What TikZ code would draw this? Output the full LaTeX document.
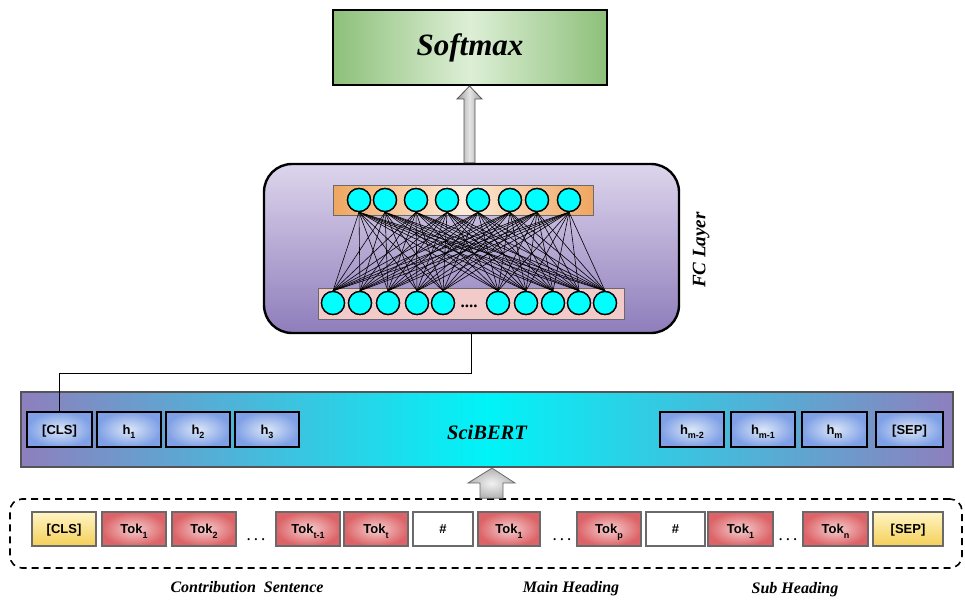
\documentclass[tikz,border=0pt]{standalone}
\usepackage{fontspec}
\setmainfont{Liberation Serif}
\setsansfont{Liberation Sans}
\usetikzlibrary{calc}
\definecolor{cyanN}{HTML}{00FFFF}
\definecolor{bertEdge}{HTML}{8E7FBE}
\definecolor{bertMid}{HTML}{00F4F8}
\definecolor{fcTop}{HTML}{DDD5EC}
\definecolor{fcBot}{HTML}{8E7DBB}
\definecolor{smEdge}{HTML}{8DC07A}
\definecolor{smMid}{HTML}{DDEFD6}
\definecolor{orEdge}{HTML}{EFA660}
\definecolor{orMid}{HTML}{FCEBDD}
\definecolor{pinkBar}{HTML}{F3CACA}
\definecolor{hIn}{HTML}{DCE7F8}
\definecolor{hOut}{HTML}{7FA0E6}
\definecolor{tIn}{HTML}{F6CFCF}
\definecolor{tOut}{HTML}{DC6468}
\definecolor{yTop}{HTML}{FFF4C4}
\definecolor{yBot}{HTML}{F4CF58}
\definecolor{boxGray}{HTML}{6A6A6A}
\newcommand{\tsub}[1]{\raisebox{-4.5pt}{\fontsize{9}{9}\selectfont #1}}
\newcommand{\tdots}{.\hspace{4pt}.\hspace{4pt}.}
\tikzset{
  neuron/.style={circle,draw=black,line width=1.3pt,fill=cyanN,minimum size=23pt,inner sep=0pt},
  labtext/.style={inner sep=0pt,text height=9.5pt,text depth=0pt,
    font=\sffamily\bfseries\fontsize{13}{14}\selectfont},
  hbox/.style={labtext,draw=black,line width=1.6pt,inner color=hIn,outer color=hOut,
    minimum height=35pt},
  basetok/.style={labtext,draw=boxGray,line width=1.8pt,minimum height=34pt},
  tokbox/.style={basetok,inner color=tIn,outer color=tOut},
  clsbox/.style={basetok,top color=yTop,bottom color=yBot},
  hashbox/.style={basetok,fill=white},
  dotlab/.style={inner sep=0pt,font=\bfseries\fontsize{13}{14}\selectfont},
  seriflab/.style={font=\rmfamily\bfseries\itshape\fontsize{16}{17}\selectfont},
  conn/.style={line width=0.6pt,black},
}
\begin{document}
\begin{tikzpicture}[x=1pt,y=-1pt]
\useasboundingbox (0,0) rectangle (965,599);

% Softmax
\node[draw=black,line width=2pt,minimum width=274pt,minimum height=75pt,
  left color=smEdge,right color=smEdge,middle color=smMid,
  font=\rmfamily\bfseries\itshape\fontsize{31}{32}\selectfont] (softmax) at (470,47.5) {\raisebox{-4pt}{Softmax}};

% FC box
\node[draw=black,line width=2.4pt,rounded corners=28pt,minimum width=415pt,minimum height=169pt,
  top color=fcTop,bottom color=fcBot] (fc) at (471.5,248.5) {};

% arrow FC -> Softmax
\path[draw=boxGray!80!black,line width=0.8pt,left color=gray!80,right color=gray!80,middle color=gray!20]
  (fc.north -| 464,0) -- (464,99) -- (457,99) -- (softmax.south -| 469.5,0) -- (482,99) -- (475,99) -- (fc.north -| 475,0) -- cycle;

% bars
\node[draw=boxGray,line width=1pt,minimum width=260pt,minimum height=30pt,
  left color=orEdge,right color=orEdge,middle color=orMid] (topbar) at (463,200) {};
\node[draw=boxGray,line width=1pt,minimum width=306pt,minimum height=31pt,
  fill=pinkBar] (botbar) at (471,303.5) {};

% neurons
\foreach \x [count=\i] in {359,385,416,447,478,510,537,569}
  \node[neuron] (t\i) at (\x,200) {};
\foreach \x [count=\i] in {333,360,388,417,443,498,526,553,579,605}
  \node[neuron] (b\i) at (\x,303) {};
\node[inner sep=0pt,font=\bfseries\fontsize{17}{17}\selectfont] (bdots) at (469,306) {....};

\foreach \i in {1,...,8}
  \foreach \j in {1,...,10}
    \draw[conn] (t\i.south) -- (b\j.north);
% redraw neurons on top of the links
\foreach \x in {359,385,416,447,478,510,537,569}
  \node[neuron] at (\x,200) {};
\foreach \x in {333,360,388,417,443,498,526,553,579,605}
  \node[neuron] at (\x,303) {};

\node[rotate=90,font=\rmfamily\bfseries\itshape\fontsize{19}{20}\selectfont] (fclab) at (701,250) {FC Layer};

% SciBERT bar
\node[draw=boxGray!80!black,line width=2.2pt,minimum width=932pt,minimum height=75pt,
  left color=bertEdge,right color=bertEdge,middle color=bertMid] (bert) at (487,429.5) {};
\node[font=\rmfamily\bfseries\itshape\fontsize{20.5}{22}\selectfont] (bertlab) at (487,432) {SciBERT};

% hidden boxes
\node[hbox,minimum width=65pt] (hcls) at (59.5,429.5) {[CLS]};
\node[hbox,minimum width=64pt] (h1) at (129,429.5) {h\tsub{1}};
\node[hbox,minimum width=64pt] (h2) at (198,429.5) {h\tsub{2}};
\node[hbox,minimum width=64pt] (h3) at (267,429.5) {h\tsub{3}};
\node[hbox,minimum width=64pt] (hm2) at (692,429.5) {h\tsub{m-2}};
\node[hbox,minimum width=64pt] (hm1) at (763,429.5) {h\tsub{m-1}};
\node[hbox,minimum width=65pt] (hm) at (834.5,429.5) {h\tsub{m}};
\node[hbox,minimum width=67pt] (hsep) at (909.5,429.5) {[SEP]};

% connector FC -> CLS
\coordinate (bend) at (472,373);
\draw[line width=0.9pt] (fc.south) -- (fc.south |- bend) -| (hcls.north);

% input frame
\node[draw=black,line width=1.6pt,dashed,dash pattern=on 7pt off 5pt,rounded corners=12pt,
  minimum width=952pt,minimum height=69pt] (frame) at (486,533.5) {};

% input arrow
\path[draw=boxGray,line width=0.8pt,inner color=gray!10,outer color=gray!60]
  (frame.north -| 480,0) -- (480,483) -- (468,483) -- (bert.south -| 492,0) -- (515,483) -- (503,483) -- (frame.north -| 503,0) -- cycle;

% tokens
\node[clsbox,minimum width=64pt] (k1) at (64,529) {[CLS]};
\node[tokbox,minimum width=64pt] (k2) at (134,529) {Tok\tsub{1}};
\node[tokbox,minimum width=64pt] (k3) at (204,529) {Tok\tsub{2}};
\node[dotlab] (d1) at (256,540) {\tdots};
\node[tokbox,minimum width=64pt] (k4) at (308,529) {Tok\tsub{t-1}};
\node[tokbox,minimum width=64pt] (k5) at (376,529) {Tok\tsub{t}};
\node[hashbox,minimum width=60pt] (k6) at (443,529) {\#};
\node[tokbox,minimum width=62pt] (k7) at (509,529) {Tok\tsub{1}};
\node[dotlab] (d2) at (562,540) {\tdots};
\node[tokbox,minimum width=64pt] (k8) at (609,529) {Tok\tsub{p}};
\node[hashbox,minimum width=59pt] (k9) at (675.5,529) {\#};
\node[tokbox,minimum width=65pt] (k10) at (740.5,529) {Tok\tsub{1}};
\node[dotlab] (d3) at (788,540) {\tdots};
\node[tokbox,minimum width=65pt] (k11) at (835.5,529) {Tok\tsub{n}};
\node[clsbox,minimum width=70pt] (k12) at (908,529) {[SEP]};

% labels
\node[seriflab] (l1) at (247,587) {Contribution\ \ Sentence};
\node[seriflab] (l2) at (571,589) {Main Heading};
\node[seriflab] (l3) at (795,589.5) {Sub Heading};
\end{tikzpicture}
\end{document}
